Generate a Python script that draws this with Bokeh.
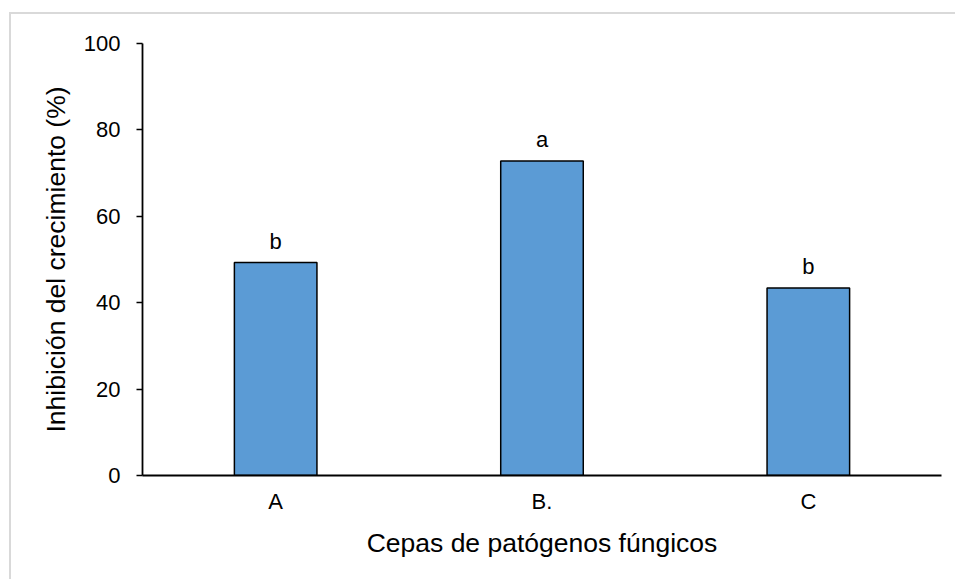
from bokeh.plotting import figure
from bokeh.models import ColumnDataSource, Range1d, FactorRange, FixedTicker
from bokeh.core.properties import value
from bokeh.embed import file_html
from bokeh.resources import INLINE

# Growth inhibition per fungal strain, with significance letters
cepas = ["A", "B.", "C"]
inhibicion = [49.3, 72.8, 43.4]
letras = ["b", "a", "b"]
y_ticks = [0, 20, 40, 60, 80, 100]

src = ColumnDataSource(data=dict(cepa=cepas, val=inhibicion, letra=letras))

FONT = "Liberation Sans"

p = figure(
    x_range=FactorRange(*cepas, range_padding=0),
    y_range=Range1d(0, 100),
    width=946, height=567,
    output_backend="svg", toolbar_location=None,
    min_border_left=131, min_border_right=16,
    min_border_top=29, min_border_bottom=106,
)
p.margin = (12, 0, 0, 9)
p.styles = {"border-top": "2px solid #d9d9d9", "border-left": "2px solid #d9d9d9"}

p.vbar(x="cepa", top="val", width=0.31, source=src,
       fill_color="#5b9bd5", line_color="black", line_width=1.5)

p.text(x="cepa", y="val", text="letra", source=src,
       text_align="center", text_baseline="bottom", y_offset=-9,
       text_font=value(FONT), text_font_size="22px", text_color="black")

p.grid.visible = False
p.outline_line_color = None
p.background_fill_color = "white"
p.border_fill_color = "white"

p.yaxis.ticker = FixedTicker(ticks=y_ticks)
p.yaxis.axis_label = "Inhibición del crecimiento (%)"
p.xaxis.axis_label = "Cepas de patógenos fúngicos"

for ax in (p.xaxis, p.yaxis):
    ax.axis_line_color = "black"
    ax.axis_line_width = 1.8
    ax.major_label_text_font = FONT
    ax.major_label_text_font_size = "22px"
    ax.major_label_text_color = "black"
    ax.axis_label_text_font = FONT
    ax.axis_label_text_font_size = "26.5px"
    ax.axis_label_text_font_style = "normal"
    ax.axis_label_text_color = "black"
    ax.minor_tick_line_color = None

p.yaxis.major_tick_line_color = "black"
p.yaxis.major_tick_line_width = 1.5
p.yaxis.major_tick_out = 6
p.yaxis.major_tick_in = 0
p.yaxis.major_label_standoff = 16
p.yaxis.axis_label_standoff = 10

p.xaxis.major_tick_line_color = None
p.xaxis.major_label_standoff = 7
p.xaxis.axis_label_standoff = 11

open("out.html", "w").write(file_html(p, INLINE))
